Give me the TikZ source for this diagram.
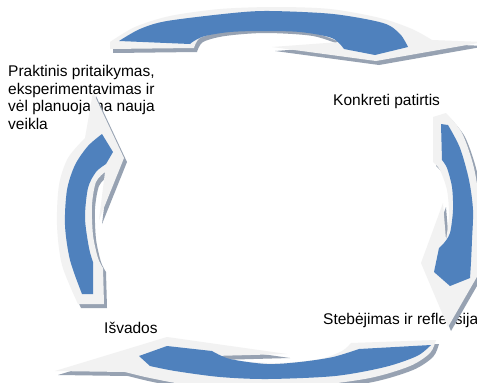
\documentclass[tikz,border=0pt]{standalone}
\usepackage{fontspec}
\setmainfont{Liberation Sans}
\usepackage{tikz}
\definecolor{cycBlue}{RGB}{79,129,189}
\definecolor{cycGlow}{RGB}{242,242,242}
\definecolor{cycShade}{RGB}{151,162,178}
\tikzset{
  lbl/.style      = {inner sep=0pt, font=\fontsize{15.5}{17.5}\selectfont},
  arrglow/.style  = {fill=cycGlow},
  arrbody/.style  = {fill=cycBlue},
  arrshade/.style = {fill=cycShade, shift={(3,4)}}
}
% outlines of the four arrows (pixel grid, y down)
\newcommand{\topglow}{(110,49) -- plot[smooth] coordinates {(110,42) (135,27) (170,16) (220,9) (275,7) (330,9) (380,18) (412,29) (432,40)} -- (484,42) -- (376,61) -- (272,47) -- (340,42) -- plot[smooth] coordinates {(340,42) (310,32) (262,29) (222,32) (200,38) (194,48)} -- cycle}
\newcommand{\topbody}{(119,41) -- plot[smooth] coordinates {(119,41) (140,29) (167,21) (233,13) (270,11) (333,14) (383,23) (400,34) (408,47)} -- (375,55) -- (344,49) -- plot[smooth] coordinates {(344,49) (332,38) (300,32) (262,31) (230,32) (205,36) (194,41) (190,44)} -- cycle}
\newcommand{\rightglow}{(433,117) -- (446,113) -- plot[smooth] coordinates {(446,113) (462,133) (474,168) (480,210) (479,250) (478,275)} -- (448,327) -- (421,263) -- (443,203) -- (446,240) -- plot[smooth] coordinates {(446,240) (449,215) (447,190) (440,170) (433,162)} -- cycle}
\newcommand{\rightbody}{(441,124) -- (448,125) -- plot[smooth] coordinates {(448,125) (460,148) (469,180) (473,210) (472,240) (471,262) (470,278)} -- (450,286) -- (434,272) -- (439,248) -- plot[smooth] coordinates {(444,243) (450,233) (453,210) (452,187) (447,168) (442,160)} -- cycle}
\newcommand{\bottomglow}{(436,340) -- plot[smooth] coordinates {(436,340) (430,353) (410,366) (370,378) (310,386) (250,388) (190,385) (150,378) (125,372)} -- (55,371) -- (167,337) -- (287,354) -- (214,356) -- plot[smooth] coordinates {(214,356) (240,361) (280,363) (320,359) (342,351) (351,343)} -- cycle}
\newcommand{\bottombody}{(431,345) -- plot[smooth] coordinates {(431,345) (417,356) (385,367) (335,376) (268,379) (220,377) (175,371) (150,366)} -- (139,356) -- (167,346) -- (212,351) -- plot[smooth] coordinates {(212,351) (230,359) (267,364) (300,362) (333,357) (359,349)} -- cycle}
\newcommand{\leftglow}{(78,304) -- plot[smooth] coordinates {(78,304) (62,265) (57,225) (59,185) (68,158) (85,138)} -- (93,92) -- (124,158) -- (99,220) -- (105,172) -- plot[smooth] coordinates {(105,172) (96,182) (92,205) (93,235) (98,258) (103,268)} -- (104,304) -- cycle}
\newcommand{\leftbody}{(82,294) -- plot[smooth] coordinates {(82,294) (70,260) (65,225) (67,190) (75,165) (88,146) (102,134)} -- (113,152) -- (106,164) -- plot[smooth] coordinates {(106,164) (96,172) (88,188) (85,218) (89,248) (93,262)} -- (93,294) -- cycle}

\begin{document}
\begin{tikzpicture}[x=1pt, y=-1pt]
    \useasboundingbox[fill=white] (0,0) rectangle (477,383);

    % stage labels
    \node[lbl, anchor=north west, align=left] (praktinis) at (8,65.4)
      {Praktinis pritaikymas,\\eksperimentavimas ir\\vėl planuojama nauja\\veikla};
    \node[lbl, anchor=base west] (konkreti) at (333,105) {Konkreti patirtis};
    \node[lbl, anchor=base west] (stebejimas) at (323,324) {Stebėjimas ir refleksija};
    \node[lbl, anchor=base west] (isvados) at (104,333) {Išvados};

    % top arrow
    \fill[arrshade] \topglow;
    \fill[arrglow] \topglow;
    \fill[arrbody] \topbody;

    % right arrow
    \fill[arrshade] \rightglow;
    \fill[arrglow] \rightglow;
    \fill[arrbody] \rightbody;

    % bottom arrow
    \fill[arrshade] \bottomglow;
    \fill[arrglow] \bottomglow;
    \fill[arrbody] \bottombody;

    % left arrow
    \fill[arrshade] \leftglow;
    \fill[arrglow] \leftglow;
    \fill[arrbody] \leftbody;
  \end{tikzpicture}
\end{document}
